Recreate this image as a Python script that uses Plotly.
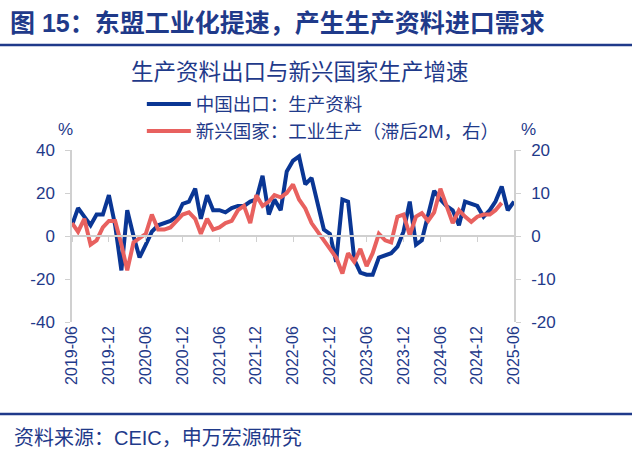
import plotly.graph_objects as go
import pandas as pd

# 月度数据（2019-06 起）
meses_azul = pd.date_range("2019-06-01", periods=73, freq="MS")
meses_verm = pd.date_range("2019-06-01", periods=71, freq="MS")

china_export = [5, 13, 9, 5, 10, 10, 19, 5, -16, 12,
                0, -10, -4, 2, 5, 6, 7, 9, 15, 16,
                22, 8, 19, 12, 12, 11, 13, 14, 14, 16,
                17, 28, 10, 17, 12, 30, 35, 37, 24, 27,
                15, 3, 1, -12, 17, 16, -11, -17, -18, -18,
                -10, -9, -8, -5, 2, 16, -4, -2, 9, 21,
                17, 14, 12, 5, 16, 15, 14, 9, 12, 16,
                23, 12, 16]

em_industria = [3, 1, 4, -2, -1, 2, 3.5, 3.5, -2, -8,
                -1.5, -0.5, 0.5, 5, 1.5, 1.5, 2, 3.5, 5, 5.5,
                4, 0.5, 4, 1.5, 2, 3, 3.5, 6, 7, 3,
                9.5, 7, 8, 9.5, 9, 10, 12, 8.5, 6.4, 3,
                1, -1, -3, -5, -8.7, -4, -6, -3, -7, -4,
                0.5, -1, -1.5, 4.5, 5, 0.2, 4.5, 5.3, 3.5, 5.5,
                11, 7, 3, 6, 4.5, 3.3, 4.5, 5, 5, 6,
                7.7]

nomes = ["中国出口：生产资料", "新兴国家：工业生产（滞后2M，右）"]

# 坐标刻度（用普通连字符作负号）
ticks_esq = [-40, -20, 0, 20, 40]
ticks_dir = [-20, -10, 0, 10, 20]
labels_esq = ["-40", "-20", "0", "20", "40"]
labels_dir = ["-20", "-10", "0", "10", "20"]

AZUL = '#0a3694'
VERM = '#e8615f'
TXT = '#1f3a8a'
EIXO = '#d0d0d0'
FONTE = "Liberation Sans, Arial, Noto Sans CJK SC"

x_range = ["2019-06-01", "2025-06-01"]

fig = go.Figure()
fig.add_trace(go.Scatter(
    x=meses_azul, y=china_export, name=nomes[0], mode='lines',
    line=dict(color=AZUL, width=4)
))
fig.add_trace(go.Scatter(
    x=meses_verm, y=em_industria, name=nomes[1], mode='lines',
    line=dict(color=VERM, width=4), xaxis='x2', yaxis='y2'
))

fig.update_layout(
    width=632, height=462,
    paper_bgcolor='white', plot_bgcolor='white',
    margin=dict(l=72, r=118, t=150, b=140),
    font=dict(family=FONTE, color=TXT),
    xaxis=dict(
        type='date', range=x_range, tick0="2019-06-01", dtick="M6",
        tickformat="%Y-%m", tickangle=-90, ticks='', showline=False,
        showgrid=False, zeroline=False,
        tickfont=dict(size=16, color=TXT)
    ),
    xaxis2=dict(
        type='date', range=x_range, tick0="2019-06-01", dtick="M6",
        overlaying='x', anchor='free', position=0.5,
        ticks='outside', ticklen=5, tickcolor=EIXO,
        showline=True, linecolor=EIXO, linewidth=1.5,
        showticklabels=False, showgrid=False, zeroline=False
    ),
    yaxis=dict(
        range=[-40, 40], tickvals=ticks_esq, ticktext=labels_esq,
        showgrid=False, zeroline=False,
        showline=True, linecolor=EIXO, linewidth=1.5,
        ticks='outside', ticklen=5, tickcolor=EIXO, ticklabelstandoff=7,
        tickfont=dict(size=17, color=TXT)
    ),
    yaxis2=dict(
        range=[-20, 20], tickvals=ticks_dir, ticktext=labels_dir,
        overlaying='y', side='right', anchor='x',
        showgrid=False, zeroline=False,
        showline=True, linecolor=EIXO, linewidth=1.5,
        ticks='outside', ticklen=5, tickcolor=EIXO, ticklabelstandoff=7,
        tickfont=dict(size=17, color=TXT)
    ),
    legend=dict(
        x=0.158, y=1.375, xanchor='left', yanchor='top',
        font=dict(size=18.5, color=TXT), bgcolor='rgba(0,0,0,0)',
        tracegroupgap=0, itemwidth=44
    ),
    showlegend=True
)

# 标题、单位、来源
fig.add_annotation(text="<b>图 15：东盟工业化提速，产生生产资料进口需求</b>",
                   xref='paper', yref='paper', x=-0.145, y=1.738,
                   xanchor='left', yanchor='middle', showarrow=False,
                   font=dict(size=25, color=TXT))
fig.add_annotation(text="生产资料出口与新兴国家生产增速",
                   xref='paper', yref='paper', x=0.516, y=1.453,
                   xanchor='center', yanchor='middle', showarrow=False,
                   font=dict(size=22.5, color=TXT))
fig.add_annotation(text="%", xref='paper', yref='paper', x=-0.015, y=1.122,
                   xanchor='center', yanchor='middle',
                   showarrow=False, font=dict(size=17, color=TXT))
fig.add_annotation(text="%", xref='paper', yref='paper', x=1.032, y=1.122,
                   xanchor='center', yanchor='middle',
                   showarrow=False, font=dict(size=17, color=TXT))
fig.add_annotation(text="资料来源：CEIC，申万宏源研究",
                   xref='paper', yref='paper', x=-0.136, y=-0.674,
                   xanchor='left', yanchor='middle', showarrow=False,
                   font=dict(size=20, color=TXT))

# 上下两条分隔线
fig.add_shape(type='line', xref='paper', yref='paper',
              x0=-0.163, x1=1.267, y0=1.61, y1=1.61,
              line=dict(color=TXT, width=2.5))
fig.add_shape(type='line', xref='paper', yref='paper',
              x0=-0.163, x1=1.267, y0=-0.535, y1=-0.535,
              line=dict(color=TXT, width=2.5))

# 去掉页面默认边距，使图表贴合窗口
fig.write_html("out.html",
               config={'displayModeBar': False},
               post_script="document.body.style.margin='0px';"
                           "document.body.style.overflow='hidden';")
